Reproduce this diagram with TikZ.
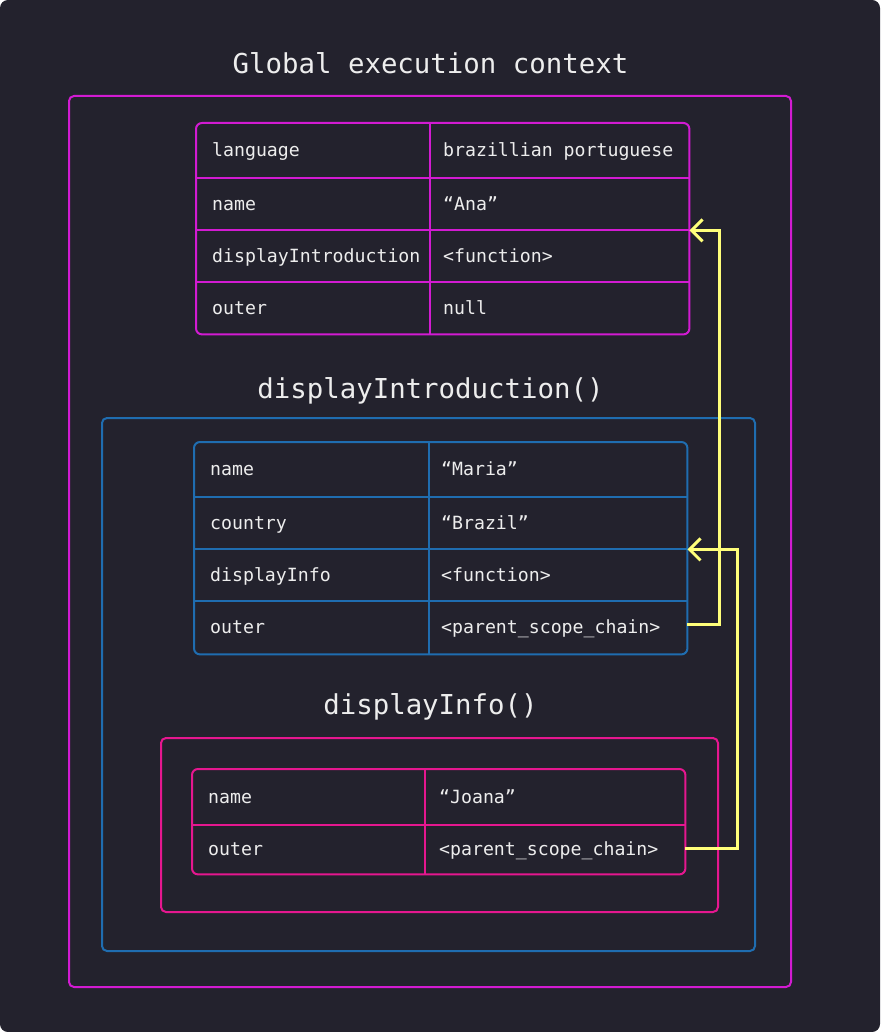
\documentclass[tikz,border=0pt]{standalone}
\usepackage{fontspec}
\setmonofont{DejaVu Sans Mono}
\usetikzlibrary{arrows.meta}
\definecolor{bg}{HTML}{23222D}
\definecolor{mag}{HTML}{D21BD2}
\definecolor{pnk}{HTML}{E5178F}
\definecolor{blu}{HTML}{1F6DB0}
\definecolor{yel}{HTML}{FFFF7A}
\definecolor{txt}{HTML}{EDEDED}
\begin{document}
\begin{tikzpicture}[x=1pt,y=-1pt,
  title/.style={text=txt,font=\ttfamily\fontsize{27.4}{30}\selectfont,anchor=base,inner sep=0},
  cell/.style={text=txt,font=\ttfamily\fontsize{18.2}{20}\selectfont,anchor=base west,inner sep=0},
  rowbox/.style={draw=none,minimum width=493pt,inner sep=0,anchor=north west},
  tframe/.style={line width=2pt,rounded corners=6pt},
  tline/.style={line width=2pt},
  ctx/.style={line width=2pt,rounded corners=5pt,inner sep=0},
  link/.style={draw=yel,line width=3pt,-{Straight Barb[length=11pt,width=22pt,line width=3pt]}}
]
\useasboundingbox (0,0) rectangle (880,1032);
\fill[white] (0,0) rectangle (880,1032);
\fill[bg,rounded corners=8pt] (0,0) rectangle (880,1032);

% titles
\node[title] (gtitle) at (430.5,74) {Global execution context};
\node[title] (ditile) at (430.5,398) {displayIntroduction()};
\node[title] (dftitle) at (430.5,714) {displayInfo()};

% outer contexts
\node[ctx,draw=mag,minimum width=722pt,minimum height=891pt] (gctx) at (430,541.5) {};
\node[ctx,draw=blu,minimum width=653pt,minimum height=533pt] (dictx) at (428.5,684.5) {};
\node[ctx,draw=pnk,minimum width=557pt,minimum height=174pt] (dfctx) at (439.5,825) {};

% ---------- table 1 ----------
\node[rowbox,minimum height=55pt] (t1r1) at (196,123) {};
\node[rowbox,minimum height=52pt] (t1r2) at (196,178) {};
\node[rowbox,minimum height=52pt] (t1r3) at (196,230) {};
\node[rowbox,minimum height=52pt] (t1r4) at (196,282) {};
\draw[tframe,mag] (t1r1.north west) rectangle (t1r4.south east);
\draw[tline,mag] (t1r1.south west) -- (t1r1.south east);
\draw[tline,mag] (t1r2.south west) -- (t1r2.south east);
\draw[tline,mag] (t1r3.south west) -- (t1r3.south east);
\draw[tline,mag] ([xshift=234pt]t1r1.north west) -- ([xshift=234pt]t1r4.south west);
\node[cell] (t1k1) at ([xshift=16pt,yshift=-6pt]t1r1.west) {language};
\node[cell] (t1v1) at ([xshift=247pt,yshift=-6pt]t1r1.west) {brazillian portuguese};
\node[cell] (t1k2) at ([xshift=16pt,yshift=-6pt]t1r2.west) {name};
\node[cell] (t1v2) at ([xshift=247pt,yshift=-6pt]t1r2.west) {“Ana”};
\node[cell] (t1k3) at ([xshift=16pt,yshift=-6pt]t1r3.west) {displayIntroduction};
\node[cell] (t1v3) at ([xshift=247pt,yshift=-6pt]t1r3.west) {<function>};
\node[cell] (t1k4) at ([xshift=16pt,yshift=-6pt]t1r4.west) {outer};
\node[cell] (t1v4) at ([xshift=247pt,yshift=-6pt]t1r4.west) {null};

% ---------- table 2 ----------
\node[rowbox,minimum height=55pt] (t2r1) at (194,442) {};
\node[rowbox,minimum height=52pt] (t2r2) at (194,497) {};
\node[rowbox,minimum height=52pt] (t2r3) at (194,549) {};
\node[rowbox,minimum height=53pt] (t2r4) at (194,601) {};
\draw[tframe,blu] (t2r1.north west) rectangle (t2r4.south east);
\draw[tline,blu] (t2r1.south west) -- (t2r1.south east);
\draw[tline,blu] (t2r2.south west) -- (t2r2.south east);
\draw[tline,blu] (t2r3.south west) -- (t2r3.south east);
\draw[tline,blu] ([xshift=235pt]t2r1.north west) -- ([xshift=235pt]t2r4.south west);
\node[cell] (t2k1) at ([xshift=16pt,yshift=-6pt]t2r1.west) {name};
\node[cell] (t2v1) at ([xshift=247pt,yshift=-6pt]t2r1.west) {“Maria”};
\node[cell] (t2k2) at ([xshift=16pt,yshift=-6pt]t2r2.west) {country};
\node[cell] (t2v2) at ([xshift=247pt,yshift=-6pt]t2r2.west) {“Brazil”};
\node[cell] (t2k3) at ([xshift=16pt,yshift=-6pt]t2r3.west) {displayInfo};
\node[cell] (t2v3) at ([xshift=247pt,yshift=-6pt]t2r3.west) {<function>};
\node[cell] (t2k4) at ([xshift=16pt,yshift=-6pt]t2r4.west) {outer};
\node[cell] (t2v4) at ([xshift=247pt,yshift=-6pt]t2r4.west) {<parent\_scope\_chain>};

% ---------- table 3 ----------
\node[rowbox,minimum height=56pt] (t3r1) at (192,769) {};
\node[rowbox,minimum height=49pt] (t3r2) at (192,825) {};
\draw[tframe,pnk] (t3r1.north west) rectangle (t3r2.south east);
\draw[tline,pnk] (t3r1.south west) -- (t3r1.south east);
\draw[tline,pnk] ([xshift=233pt]t3r1.north west) -- ([xshift=233pt]t3r2.south west);
\node[cell] (t3k1) at ([xshift=16pt,yshift=-6pt]t3r1.west) {name};
\node[cell] (t3v1) at ([xshift=247pt,yshift=-6pt]t3r1.west) {“Joana”};
\node[cell] (t3k2) at ([xshift=16pt,yshift=-6pt]t3r2.west) {outer};
\node[cell] (t3v2) at ([xshift=247pt,yshift=-6pt]t3r2.west) {<parent\_scope\_chain>};

% ---------- links ----------
\draw[link] ([yshift=3.5pt]t2r4.east) -- ++(32,0) |- (t1r2.south east);
\draw[link] ([yshift=1.5pt]t3r2.east) -- ++(52,0) |- (t2r2.south east);
\end{tikzpicture}
\end{document}
